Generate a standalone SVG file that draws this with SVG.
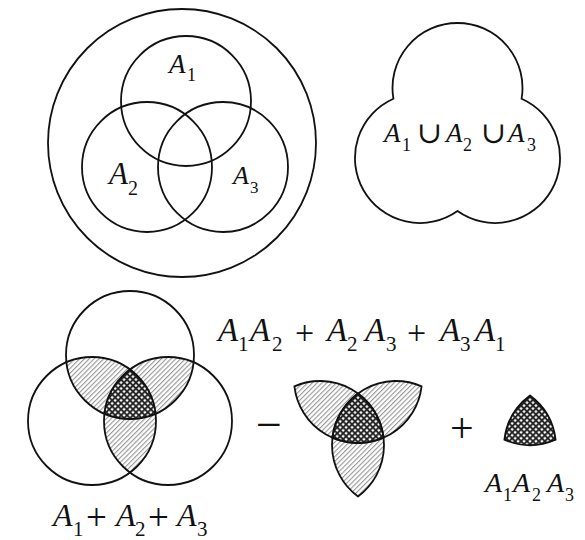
<svg xmlns="http://www.w3.org/2000/svg" width="585" height="540" viewBox="0 0 585 540">
<style>
.ln{fill:none;stroke:#111;stroke-width:1.8}
.hatch{fill:url(#hatch)}
.cross{fill:url(#cross)}
.t{font-family:"Liberation Serif","DejaVu Serif",serif;fill:#111}
.v{font-style:italic}
.op{font-family:"Liberation Serif","DejaVu Serif",serif;fill:#111}
</style>
<defs>
<pattern id="hatch" patternUnits="userSpaceOnUse" width="3.4" height="3.4" patternTransform="rotate(45)">
<rect width="3.4" height="3.4" fill="#fff"/>
<line x1="0.6" y1="0" x2="0.6" y2="3.4" stroke="#808080" stroke-width="0.9"/>
</pattern>
<pattern id="cross" patternUnits="userSpaceOnUse" width="4.2" height="4.2" patternTransform="rotate(45)">
<rect width="4.2" height="4.2" fill="#fff"/>
<line x1="1" y1="0" x2="1" y2="4.2" stroke="#222" stroke-width="1.9"/>
<line x1="0" y1="1" x2="4.2" y2="1" stroke="#222" stroke-width="1.9"/>
</pattern>
<path id="lensTL" d="M-63.58 -36.67 A64 64 0 0 1 25.58 14.67 A64 64 0 0 1 -63.58 -36.67 Z"/>
<path id="lensTR" d="M63.58 -36.67 A64 64 0 0 0 -25.58 14.67 A64 64 0 0 0 63.58 -36.67 Z"/>
<path id="lensLR" d="M0 -29.5 A64 64 0 0 1 0 73.5 A64 64 0 0 1 0 -29.5 Z"/>
<path id="triple" d="M0 -29.5 A64 64 0 0 1 25.58 14.67 A64 64 0 0 1 -25.58 14.67 A64 64 0 0 1 0 -29.5 Z"/>
</defs>

<g id="venn-universe">
<circle class="ln" cx="182" cy="143" r="134"/>
<circle class="ln" cx="186" cy="101" r="65"/>
<circle class="ln" cx="147" cy="167" r="65"/>
<circle class="ln" cx="223" cy="167" r="65"/>
<text class="t" font-size="27"><tspan class="v" x="169" y="73">A</tspan><tspan x="187" y="81" font-size="18">1</tspan></text>
<text class="t" font-size="31"><tspan class="v" x="109" y="184">A</tspan><tspan x="128" y="195" font-size="20">2</tspan></text>
<text class="t" font-size="26"><tspan class="v" x="233" y="184">A</tspan><tspan x="250" y="193" font-size="17">3</tspan></text>
</g>

<g id="union">
<path class="ln" d="M393.39 98.7 A65 65 0 1 1 521.61 98.7 A65 65 0 1 1 457.5 211.09 A65 65 0 1 1 393.39 98.7 Z"/>
<text class="t" font-size="27"><tspan class="v" x="384" y="142">A</tspan><tspan x="402" y="151" font-size="18">1</tspan><tspan x="417" y="143" font-size="30">∪</tspan><tspan class="v" x="446" y="142">A</tspan><tspan x="463" y="151" font-size="18">2</tspan><tspan x="481" y="143" font-size="30">∪</tspan><tspan class="v" x="508" y="142">A</tspan><tspan x="527" y="151" font-size="18">3</tspan></text>
</g>

<g id="venn-sum">
<g transform="translate(130,399)">
<use href="#lensTL" class="hatch"/>
<use href="#lensTR" class="hatch"/>
<use href="#lensLR" class="hatch"/>
<use href="#triple" class="cross"/>
<circle class="ln" cx="0" cy="-44" r="64"/>
<circle class="ln" cx="-38" cy="22" r="64"/>
<circle class="ln" cx="38" cy="22" r="64"/>
</g>
<text class="t" font-size="32"><tspan class="v" x="53" y="526">A</tspan><tspan x="73" y="536" font-size="21">1</tspan><tspan x="86" y="530" font-size="37">+</tspan><tspan class="v" x="116" y="526">A</tspan><tspan x="135" y="536" font-size="21">2</tspan><tspan x="148" y="530" font-size="37">+</tspan><tspan class="v" x="177" y="526">A</tspan><tspan x="197" y="536" font-size="21">3</tspan></text>
</g>

<g id="pairs">
<text class="t" font-size="33"><tspan class="v" x="218" y="341">A</tspan><tspan x="238" y="351" font-size="21">1</tspan><tspan class="v" x="250" y="341">A</tspan><tspan x="272" y="351" font-size="21">2</tspan><tspan x="295" y="344" font-size="34">+</tspan><tspan class="v" x="327" y="341">A</tspan><tspan x="347" y="351" font-size="21">2</tspan><tspan class="v" x="365" y="341">A</tspan><tspan x="386" y="351" font-size="21">3</tspan><tspan x="407" y="344" font-size="34">+</tspan><tspan class="v" x="440" y="341">A</tspan><tspan x="460" y="351" font-size="21">3</tspan><tspan class="v" x="475" y="341">A</tspan><tspan x="495" y="351" font-size="21">1</tspan></text>
</g>

<g id="minus">
<text class="op" x="256" y="440" font-size="46">−</text>
</g>

<g id="trefoil" transform="translate(358,423)">
<use href="#lensTL" class="hatch"/>
<use href="#lensTR" class="hatch"/>
<use href="#lensLR" class="hatch"/>
<use href="#triple" class="cross"/>
<use href="#lensTL" class="ln"/>
<use href="#lensTR" class="ln"/>
<use href="#lensLR" class="ln"/>
</g>

<g id="plus">
<text class="op" x="450" y="442" font-size="42">+</text>
</g>

<g id="triple-region">
<g transform="translate(530,425)">
<use href="#triple" class="cross"/>
<use href="#triple" class="ln"/>
</g>
<text class="t" font-size="28"><tspan class="v" x="485" y="492">A</tspan><tspan x="503" y="501" font-size="18">1</tspan><tspan class="v" x="513" y="492">A</tspan><tspan x="532" y="501" font-size="18">2</tspan><tspan class="v" x="547" y="492">A</tspan><tspan x="565" y="501" font-size="18">3</tspan></text>
</g>
</svg>
